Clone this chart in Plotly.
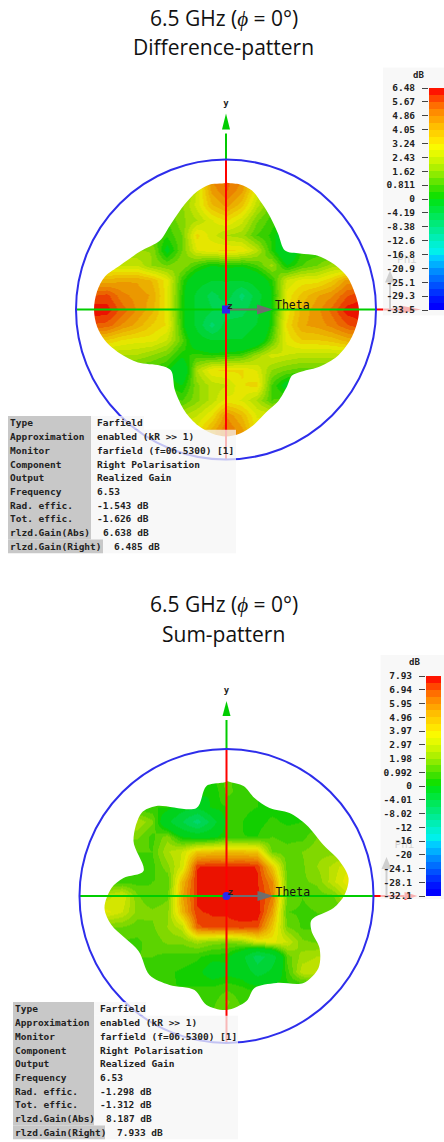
import plotly.graph_objects as go

W, H = 444, 1142

TICKS_DIFF = ["-33.5","-29.3","-25.1","-20.9","-16.8","-12.6","-8.38","-4.19","0","0.811","1.62","2.43","3.24","4.05","4.86","5.67","6.48"]
TICKS_SUM = ["-32.1","-28.1","-24.1","-20","-16","-12","-8.02","-4.01","0","0.992","1.98","2.97","3.97","4.96","5.95","6.94","7.93"]

BAND_RGB = [
    (0,0,255),(0,20,255),(0,50,255),(0,80,255),(0,110,255),(0,140,255),(0,175,255),(0,205,255),
    (0,240,235),(0,240,210),(0,238,180),(0,236,150),(0,234,120),(0,232,90),(0,230,60),(0,228,30),
    (20,225,0),(60,225,0),(100,230,0),(140,235,0),(175,240,0),(205,245,0),(230,250,0),(250,250,0),
    (255,230,0),(255,210,0),(255,190,0),(255,165,0),(255,140,0),(255,110,0),(255,70,0),(255,20,0),
]
SURFACE_SHADE = 0.92

GRID_U = [-150,-135,-120,-105,-90,-75,-60,-45,-30,-15,0,15,30,45,60,75,90,105,120,135,150]
GRID_V = [150,135,120,105,90,75,60,45,30,15,0,-15,-30,-45,-60,-75,-90,-105,-120,-135,-150]

GAIN_DIFF = [
    [1,1,1,1,1,1,1,1,3,5,5.5,5,3,1,1,1,1,1,1,1,1],
    [1,1,1,1,1,1,1,1,3,5,5.5,5,3,1,1,1,1,1,1,1,1],
    [1,1,1,1,1,1,1,1,2.5,4.6,5.3,4.6,2.8,1,1,1,1,1,1,1,1],
    [1,1,1,1,1,1,1,1.5,2.6,4,4.6,3.8,2.2,1,1,1,1,1,1,1,1],
    [0.8,0.8,0.8,0.8,0.8,0.8,0.8,1.5,2,2.8,3.3,2.6,1.3,0.6,0.6,0.6,0.6,0.6,0.6,0.6,0.6],
    [0.8,0.8,0.8,0.8,0.8,0.8,0.5,1.2,3.4,2.6,2,1.8,0.8,0.3,-1,0,0,0,0,0,0],
    [1.6,1.6,1.6,1.6,1.6,1.6,-0.3,1.2,2.8,3.2,3.3,3.2,2.2,0.4,-1.5,0.5,0.5,0.5,0.5,0.5,0.5],
    [2.4,2.4,2.4,2.4,2.4,1.6,1.2,1.6,0.7,0,0.4,0.2,0.8,1.8,0,0.8,1.2,1.8,1.8,1.8,1.8],
    [4.2,4.2,4.2,4.4,4.4,4,3,0.6,-1,-2,-2,-2,-1,0.4,2.5,3,3,3.6,4.6,4.6,4.6],
    [5.6,5.6,5.8,5,4.7,4.4,3,0.4,-2.5,-5,-3,-7,-3,0,3,3.8,4.4,4.8,5.6,6,6],
    [6.4,6.4,6.3,5.5,4.8,4.2,3,0.4,-2.5,-4,-6,-5,-2.5,0.2,3,4.2,4.7,5.4,6.3,6.4,6.4],
    [5.6,5.6,5.5,4.8,4.3,3.6,3.2,0.5,-2.5,-7,-3,-3,-2,0.4,3.3,4.4,4.6,5,5.6,6,6],
    [3.6,3.6,3.6,3.2,3,3,2.4,1,-1,-2,-2,-2,-1,1,3,3.6,3.6,3.8,4.2,4.2,4.2],
    [2,2,2,2,2,1.6,1.2,0.2,0.6,0.4,0.6,0.8,1.8,2.6,2.4,2.2,2.2,2.2,2.2,2.2,2.2],
    [0.6,0.6,0.6,0.6,0.6,0.6,0.2,-1.2,2,3.2,3.3,3.3,2.8,1.6,1.2,1,1,1,1,1,1],
    [0.5,0.5,0.5,0.5,0.5,0.5,0.5,0,1.5,2.2,2.4,3.2,3.4,0.8,-0.5,-0.5,-0.5,-0.5,-0.5,-0.5,-0.5],
    [1,1,1,1,1,1,1,0.8,1.5,2.2,3,2.8,2,0.8,1,1,1,1,1,1,1],
    [2,2,2,2,2,2,2,2,2.4,3.2,4.8,4,2.8,2.8,2.8,2.8,2.8,2.8,2.8,2.8,2.8],
    [3,3,3,3,3,3,3,3,3,4.2,5.3,4.6,3,3,3,3,3,3,3,3,3],
    [3,3,3,3,3,3,3,3,3,4.2,5.3,4.6,3,3,3,3,3,3,3,3,3],
    [3,3,3,3,3,3,3,3,3,4.2,5.3,4.6,3,3,3,3,3,3,3,3,3],
]
GAIN_SUM = [
    [0.5,0.5,0.5,0.5,0.5,0.5,0.5,0.5,0.5,0.5,1.2,0.5,0.5,0.5,0.5,0.5,0.5,0.5,0.5,0.5,0.5],
    [0.5,0.5,0.5,0.5,0.5,0.5,0.5,0.5,0.5,0.5,1.2,0.5,0.5,0.5,0.5,0.5,0.5,0.5,0.5,0.5,0.5],
    [0.5,0.5,0.5,0.5,0.5,0.5,0.5,0.5,0.5,0.5,1.2,0.5,0.5,0.5,0.5,0.5,0.5,0.5,0.5,0.5,0.5],
    [0.5,0.5,0.5,0.5,0.5,0.5,0.5,0.5,0.5,0,1.2,0.6,0.5,0.5,0.5,0.5,0.5,0.5,0.5,0.5,0.5],
    [0.5,0.5,0.5,0.5,0.5,0.5,0.5,-1,-1.5,0.3,0.5,0.6,0.5,0.3,0.3,0.3,0.3,0.3,0.3,0.3,0.3],
    [2.5,2.5,2.5,2.5,2.5,1.6,-1.5,-4,-7,-3,0.6,0.5,0.3,0.6,0.4,0.5,0.5,0.5,0.5,0.5,0.5],
    [1.6,1.6,1.6,1.6,1.6,0.8,1.8,0,-0.5,-0.3,0.6,0.5,0.5,1,0.8,0.8,1.5,1.5,1.5,1.5,1.5],
    [1,1,1,1,1,1,2.4,3,4.6,4.8,4.8,4.8,4.6,1.4,1.2,1.5,1.8,1.8,1.8,1.8,1.8],
    [0.8,0.8,0.8,0.8,0.8,0.8,1.8,3.2,7.4,7.6,7.5,7.6,7.4,4.6,1.2,1.4,2,2.6,3.4,3.4,3.4],
    [0.8,0.8,0.8,0.8,0.8,1,1,5,7.6,7.9,7.5,7.5,7.5,6,1.4,1.4,1.6,2.8,3.8,3.8,3.8],
    [2.8,2.8,2.8,3.4,1.6,1,1.4,5.4,7.5,7.6,7.5,7.6,7.6,6.4,1.4,1,1.2,1.3,2.8,2.8,2.8],
    [3.6,3.6,3.6,3,1.8,1.6,1.8,5,7.4,7.5,7.5,7.7,7.9,5.6,1,0.9,1,1,1,1,1],
    [1.5,1.5,1.5,1.5,1.2,1.4,2,2.8,6.8,7.3,7.3,7.3,7.1,4.6,1.5,0.9,0.9,0.9,0.9,0.9,0.9],
    [0.9,0.9,0.9,0.9,0.9,1.2,1.6,1.6,2.2,1.8,1.6,2,3.3,3.6,3,1.6,1.4,1.4,1.4,1.4,1.4],
    [1,1,1,1,1,1,0.8,0.8,0.6,0.2,0.2,-1.5,-5,-3,1.2,2.2,2.5,2.5,2.5,2.5,2.5],
    [0.6,0.6,0.6,0.6,0.6,0.6,0.6,0.4,0.2,-0.5,-0.3,-0.5,-3,-1.5,0.8,2.8,3,3,3,3,3],
    [0.5,0.5,0.5,0.5,0.5,0.5,0.5,0.5,0.5,0.5,0.8,0.5,0.3,0.3,0.3,0.3,0.3,0.3,0.3,0.3,0.3],
    [1,1,1,1,1,1,1,1,1,0.8,1.6,0.8,1,1,1,1,1,1,1,1,1],
    [1.2,1.2,1.2,1.2,1.2,1.2,1.2,1.2,1.2,1.2,1.2,1.2,1.2,1.2,1.2,1.2,1.2,1.2,1.2,1.2,1.2],
    [1.2,1.2,1.2,1.2,1.2,1.2,1.2,1.2,1.2,1.2,1.2,1.2,1.2,1.2,1.2,1.2,1.2,1.2,1.2,1.2,1.2],
    [1.2,1.2,1.2,1.2,1.2,1.2,1.2,1.2,1.2,1.2,1.2,1.2,1.2,1.2,1.2,1.2,1.2,1.2,1.2,1.2,1.2],
]

OUTLINE_DIFF_U = [0,14,26,36,44,52,59,74,91,107,121,129,133,131,124,111,94,76,66,61,52,41,27,14,0,-14,-28,-41,-51,-55,-66,-88,-106,-121,-129,-132,-129,-121,-106,-86,-66,-56,-43,-29,-16]
OUTLINE_DIFF_V = [127,125,119,106,93,76,59,56,54,46,33,16,0,-14,-31,-47,-57,-62,-66,-77,-92,-102,-116,-124,-127,-124,-116,-102,-81,-61,-56,-53,-44,-31,-17,0,18,33,44,58,69,84,103,118,125]
OUTLINE_SUM_U = [0,17,28,43,63,80,97,113,122,118,107,85,85,93,92,77,50,28,20,0,-20,-32,-57,-77,-88,-115,-122,-115,-103,-83,-93,-85,-70,-30,-20]
OUTLINE_SUM_V = [115,110,98,88,83,71,51,35,18,1,-12,-24,-35,-52,-72,-87,-87,-92,-105,-114,-109,-94,-89,-79,-55,-29,-12,8,18,25,55,83,90,88,110]

INFO_LABELS = ["Type","Approximation","Monitor","Component","Output","Frequency","Rad. effic.","Tot. effic.","rlzd.Gain(Abs)","rlzd.Gain(Right)"]
INFO_DIFF = ["Farfield","enabled (kR >> 1)","farfield (f=06.5300) [1]","Right Polarisation","Realized Gain","6.53","-1.543 dB","-1.626 dB","6.638 dB","6.485 dB"]
INFO_SUM = ["Farfield","enabled (kR >> 1)","farfield (f=06.5300) [1]","Right Polarisation","Realized Gain","6.53","-1.298 dB","-1.312 dB","8.187 dB","7.933 dB"]

MONO = "DejaVu Sans Mono"
SANS = "Open Sans"


def band_scale(tick_labels, shade=1.0):
    ticks = [float(t) for t in tick_labels]
    edges = []
    for a, b in zip(ticks[:-1], ticks[1:]):
        edges += [a, (a + b) / 2]
    edges.append(ticks[-1])
    lo, hi = edges[0], edges[-1]
    scale = []
    for i, (r, g, b) in enumerate(BAND_RGB):
        c = f"rgb({r * shade:.0f},{g * shade:.0f},{b * shade:.0f})"
        scale.append([(edges[i] - lo) / (hi - lo), c])
        scale.append([(edges[i + 1] - lo) / (hi - lo), c])
    centers = [(edges[i] + edges[i + 1]) / 2 for i in range(len(BAND_RGB))]
    return scale, centers, lo, hi


fig = go.Figure()
annotations, shapes = [], []


def add_panel(ids, gain, out_u, out_v, ticks, radius, phi_x, phi_text, cb_box, red_end, head, marker_symbol, theta_y):
    xa, ya, xb, yb = ids
    scale, centers, lo, hi = band_scale(ticks)
    surface, _, _, _ = band_scale(ticks, SURFACE_SHADE)
    fig.add_trace(go.Heatmap(x=GRID_U, y=GRID_V[::-1], z=gain[::-1], zsmooth="best", colorscale=surface,
                             zmin=lo, zmax=hi, showscale=False, hoverinfo="skip", xaxis=xa, yaxis=ya))
    # white surround hiding everything outside the pattern outline (outline runs opposite to the frame)
    e = 190
    mx = [-e, e, e, -e, -e] + [out_u[0]] + out_u[:0:-1] + [out_u[0], -e]
    my = [e, e, -e, -e, e] + [out_v[0]] + out_v[:0:-1] + [out_v[0], e]
    fig.add_trace(go.Scatter(x=mx, y=my, mode="lines", fill="toself", fillcolor="white",
                             line=dict(width=0, color="white", shape="spline", smoothing=0.9), hoverinfo="skip", xaxis=xa, yaxis=ya))

    def line(x, y, color, width=2):
        fig.add_trace(go.Scatter(x=x, y=y, mode="lines", line=dict(color=color, width=width),
                                 hoverinfo="skip", xaxis=xa, yaxis=ya))

    def tri(x, y, color):
        fig.add_trace(go.Scatter(x=x, y=y, mode="lines", fill="toself", fillcolor=color, line=dict(width=0, color=color),
                                 hoverinfo="skip", xaxis=xa, yaxis=ya))

    def label(x, y, t, size, color, anchor="middle center", family=MONO, weight="bold"):
        fig.add_trace(go.Scatter(x=[x], y=[y], mode="text", text=[t], textposition=anchor,
                                 textfont=dict(family=family, size=size, color=color, weight=weight),
                                 hoverinfo="skip", xaxis=xa, yaxis=ya))

    # axes
    line([0, 0], [radius, head[0] - 4], "rgb(0,205,0)")
    tri([-4, 4, 0, -4], [head[0], head[0], head[1], head[0]], "rgb(0,205,0)")
    line([0, 0], [radius, -radius], "rgb(255,0,0)")
    line([-radius, radius], [0, 0], "rgb(0,205,0)")
    line([radius, red_end[0]], [0, 0], "rgb(255,0,0)")
    tri([red_end[0], red_end[0], red_end[1], red_end[0]], [4, -4, 0, 4], "rgb(255,0,0)")
    line([0, 32], [0, 0], "rgb(110,110,110)")
    tri([31, 31, 47, 31], [5, -5, 0, 5], "rgb(110,110,110)")
    line([phi_x, phi_x], [0, 28], "rgb(110,110,110)")
    tri([phi_x - 5, phi_x + 5, phi_x, phi_x - 5], [27, 27, 39, 27], "rgb(110,110,110)")
    fig.add_trace(go.Scatter(x=[0], y=[0], mode="markers", marker=dict(color="rgb(40,40,240)", size=8, symbol=marker_symbol, line=dict(width=0)),
                             hoverinfo="skip", xaxis=xa, yaxis=ya))
    label(49, theta_y, "Theta", 11.5, "#111", "middle right", weight="normal")
    label(4, 3, "z", 9, "#222", "middle center")
    label(0, head[1] + 10, "y", 9, "#222", "middle center")
    label(phi_text[0], phi_text[1], "Phi", 11, "#777", "middle center", weight="normal")
    # translucent panel behind the colour bar
    fig.add_trace(go.Scatter(x=[cb_box[0], W, W, cb_box[0], cb_box[0]], y=[cb_box[1], cb_box[1], cb_box[2], cb_box[2], cb_box[1]],
                             mode="lines", fill="toself", fillcolor="rgba(245,245,245,0.72)", line=dict(width=0, color="rgba(0,0,0,0)"),
                             hoverinfo="skip", xaxis=xa, yaxis=ya))
    # colour bar
    fig.add_trace(go.Heatmap(x=[0], y=[0.25 + 0.5 * i for i in range(32)], z=[[c] for c in centers], colorscale=scale,
                             zmin=lo, zmax=hi, showscale=False, hoverinfo="skip", xaxis=xb, yaxis=yb))


add_panel(("x", "y", "x2", "y2"), GAIN_DIFF, OUTLINE_DIFF_U, OUTLINE_DIFF_V, TICKS_DIFF, 150, 164, (181, 49), (157, 242, -6), (174, 195), (180, 196), "square", 3)
add_panel(("x3", "y3", "x4", "y4"), GAIN_SUM, OUTLINE_SUM_U, OUTLINE_SUM_V, TICKS_SUM, 147, 160, (178, 51), (154, 241, -3), (178, 191), (180, 195), "circle", 3)


def hide(**k):
    return dict(visible=False, fixedrange=True, **k)


def y_cb(domain, labels):
    return dict(domain=domain, range=[0, 16], tickvals=list(range(17)), ticktext=labels, ticks="outside", ticklen=6,
                tickcolor="#444", tickwidth=1, tickfont=dict(family=MONO, size=9.5, color="#222", weight="bold"),
                showline=False, showgrid=False, zeroline=False, ticklabelstandoff=5, fixedrange=True)


def dom(top, bottom):
    return [1 - bottom / H, 1 - top / H]


fig.update_layout(
    width=W, height=H, margin=dict(l=0, r=0, t=0, b=0, autoexpand=False), paper_bgcolor="white", plot_bgcolor="rgba(0,0,0,0)", showlegend=False,
    xaxis=hide(domain=[0, 1], range=[-226, 218], anchor="y"),
    yaxis=hide(domain=dom(60, 570), range=[309.5 - 570, 309.5 - 60], anchor="x"),
    xaxis2=hide(domain=[429 / W, 444 / W], range=[-0.5, 0.5], anchor="y2"),
    yaxis2=dict(y_cb(dom(88, 310), TICKS_DIFF), anchor="x2"),
    xaxis3=hide(domain=[0, 1], range=[-226.5, 217.5], anchor="y3"),
    yaxis3=hide(domain=dom(650, 1142), range=[896 - 1142, 896 - 650], anchor="x3"),
    xaxis4=hide(domain=[426 / W, 441 / W], range=[-0.5, 0.5], anchor="y4"),
    yaxis4=dict(y_cb(dom(676, 896), TICKS_SUM), anchor="x4"),
)

# surrounding circles in the two polar views (drawn first, so the tables lie over them)
shapes.append(dict(type="circle", xref="x", yref="y", x0=-150, x1=150, y0=-150, y1=150, line=dict(color="rgb(45,45,235)", width=2), layer="above"))
shapes.append(dict(type="circle", xref="x3", yref="y3", x0=-147, x1=147, y0=-147, y1=147, line=dict(color="rgb(45,45,235)", width=2), layer="above"))


def text_px(x, y, t, size, family=MONO, color="#222", anchor="left", weight="bold"):
    annotations.append(dict(xref="paper", yref="paper", x=x / W, y=1 - y / H, text=t, showarrow=False, xanchor=anchor, yanchor="middle",
                            font=dict(family=family, size=size, color=color, weight=weight), borderpad=0, borderwidth=0))


def rect_px(x0, y0, x1, y1, color):
    shapes.append(dict(type="rect", xref="paper", yref="paper", x0=x0 / W, x1=x1 / W, y0=1 - y0 / H, y1=1 - y1 / H,
                       fillcolor=color, line=dict(width=0), layer="above"))


def table(x0, top, row_h, gray_r, last_r, light_r, first_r, val_x, values):
    bottom = top + row_h * 10
    rect_px(gray_r, top, first_r, top + row_h, "rgba(245,245,245,0.75)")
    rect_px(gray_r, top + row_h, light_r, bottom, "rgba(245,245,245,0.75)")
    rect_px(x0, top, gray_r, bottom - row_h, "rgb(200,200,200)")
    rect_px(x0, bottom - row_h, last_r, bottom, "rgb(200,200,200)")
    for i, (l, v) in enumerate(zip(INFO_LABELS, values)):
        y = top + row_h * (i + 0.5)
        text_px(x0 + 2, y, l, 9.5)
        vx = val_x
        if i == 8:
            vx = val_x + 6
        if i == 9:
            vx = val_x + 17
        text_px(vx, y, v, 9.5)


table(8, 416, 13.72, 91, 103, 236, 144, 97, INFO_DIFF)
table(13, 1002, 13.72, 94, 105, 238, 146, 100, INFO_SUM)

text_px(224, 18, "6.5 GHz (<i>ϕ</i> = 0°)", 21, SANS, "#111", "center", "normal")
text_px(224, 47, "Difference-pattern", 21, SANS, "#111", "center", "normal")
text_px(224, 604, "6.5 GHz (<i>ϕ</i> = 0°)", 21, SANS, "#111", "center", "normal")
text_px(224, 634, "Sum-pattern", 21, SANS, "#111", "center", "normal")
text_px(418, 75, "dB", 9, MONO, "#222", "center")
text_px(414, 662, "dB", 9, MONO, "#222", "center")

fig.update_layout(annotations=annotations, shapes=shapes)

fig.write_html("out.html", config={"displayModeBar": False}, post_script="document.body.style.margin='0';")
